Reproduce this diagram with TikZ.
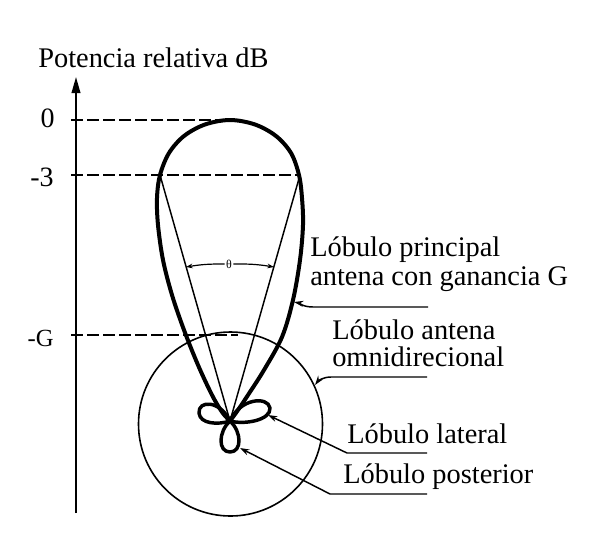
\documentclass[tikz,border=0pt]{standalone}
\usepackage{fontspec}
\setmainfont{Liberation Serif}
\usetikzlibrary{arrows.meta}
\begin{document}
\begin{tikzpicture}[x=0.75pt,y=-0.75pt,
  lbl/.style={anchor=base west, inner sep=0pt, font=\fontsize{21.3}{24}\selectfont},
  ticklbl/.style={anchor=base east, inner sep=0pt, font=\fontsize{21}{24}\selectfont},
  lobe/.style={line width=3pt, line join=round, line cap=round},
  petal/.style={line width=2.6pt, line join=round},
  thinline/.style={line width=1.1pt},
  dashline/.style={line width=1.6pt, dash pattern=on 9pt off 3pt},
  leader/.style={line width=1.1pt, -{Stealth[length=7pt,width=4.5pt]}},
  tharr/.style={line width=0.9pt, -{Stealth[length=5pt,width=3.5pt]}},
]
\useasboundingbox (0,0) rectangle (589,551);
\fill[white] (0,0) rectangle (589,551);

% axis
\coordinate (ax0) at (76,513);
\coordinate (ax1) at (76,77);
\draw[line width=1.3pt, -{Triangle[length=12pt,width=6.5pt]}] (ax0) -- (ax1);
\node[lbl] (title) at (38,67) {Potencia relativa dB};

% tick labels
\node[ticklbl] (t0) at (55,127) {0};
\node[ticklbl] (t3) at (54,186) {-3};
\node[ticklbl, font=\fontsize{18.5}{20}\selectfont] (tG) at (54,346) {-G};

% dashed levels
\coordinate (d0a) at (71,120);  \coordinate (d0b) at (228,120);
\coordinate (d3a) at (71,175);  \coordinate (d3b) at (300,175);
\coordinate (dGa) at (71,335);  \coordinate (dGb) at (238,335);
\draw[dashline] (d0a) -- (d0b);
\draw[dashline] (d3a) -- (d3b);
\draw[dashline] (dGa) -- (dGb);

% origin and omnidirectional circle
\coordinate (O) at (230,421);
\coordinate (C) at (230.5,424);
\draw[line width=1.2pt] (C) circle[radius=92];

% main lobe
\draw[lobe] plot[smooth, tension=0.55] coordinates {
  (230,421) (238,410) (248,395) (264,370) (282,337) (293,300) (300,260)
  (303,225) (302,198) (299,175) (291,153) (276,136) (255,124.5) (230,120)
  (205,124.5) (184,136) (169,153) (160,175) (157,198) (158,225) (163,260)
  (172,295) (184,330) (198,365) (212,395) (222,412) (230,421)};

% half-power lines
\coordinate (L3) at (160,175);
\coordinate (R3) at (300,175);
\draw[thinline] (O) -- (L3);
\draw[thinline] (O) -- (R3);

% theta
\node[inner sep=1pt, font=\fontsize{9}{10}\selectfont] (th) at (229,264) {θ};
\coordinate (thL) at (186,267);
\coordinate (thR) at (274,267);
\draw[tharr] (th.west) to[bend right=5] (thL);
\draw[tharr] (th.east) to[bend left=5] (thR);

% side lobes and back lobe
\draw[petal] (O) .. controls (220,400) and (198,400) .. (199,413)
                 .. controls (200,424) and (218,425) .. (O);
\draw[petal] (O) .. controls (240,398) and (268,396) .. (270,408)
                 .. controls (271,420) and (245,425) .. (O);
\draw[petal] (O) .. controls (218,432) and (218,452) .. (230,452)
                 .. controls (242,452) and (242,432) .. (O);

% labels
\node[lbl] (lp1) at (310,256) {Lóbulo principal};
\node[lbl] (lp2) at (310,285) {antena con ganancia G};
\node[lbl] (lo1) at (332,339) {Lóbulo antena};
\node[lbl] (lo2) at (332,366) {omnidirecional};
\node[lbl] (ll)  at (347,443) {Lóbulo lateral};
\node[lbl] (lpo) at (343,483) {Lóbulo posterior};

% leaders
\coordinate (k1s) at (428,307); \coordinate (k1m) at (313,307); \coordinate (a1) at (294,302);
\draw[leader] (k1s) -- (k1m) .. controls (303,307) and (299,303) .. (a1);
\coordinate (k2s) at (427,377); \coordinate (k2m) at (331,377); \coordinate (a2) at (315,385);
\draw[leader] (k2s) -- (k2m) .. controls (323,377) and (318,381) .. (a2);
\coordinate (k3s) at (427,453); \coordinate (k3m) at (347,453); \coordinate (a3) at (268,415);
\draw[leader] (k3s) -- (k3m) -- (a3);
\coordinate (k4s) at (427,494); \coordinate (k4m) at (330,494); \coordinate (a4) at (240,448);
\draw[leader] (k4s) -- (k4m) -- (a4);
\end{tikzpicture}
\end{document}
